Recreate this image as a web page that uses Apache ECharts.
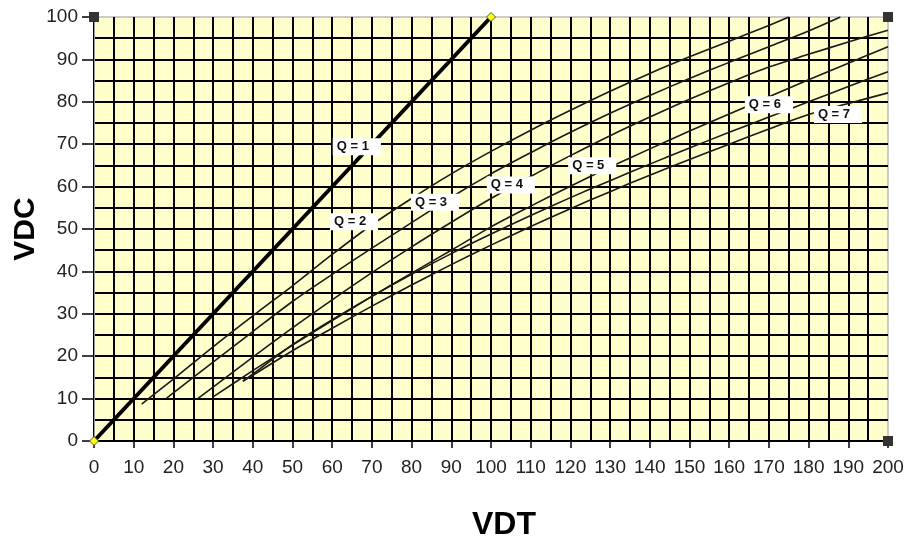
<!DOCTYPE html>
<html>
<head>
<meta charset="utf-8">
<script src="https://cdn.jsdelivr.net/npm/echarts@6/dist/echarts.min.js"></script>
<style>html,body{margin:0;padding:0;background:#fff}#c{width:916px;height:537px}</style>
</head>
<body>
<div id="c"></div>
<script>
// ---- data ----
var xTicks = [0,10,20,30,40,50,60,70,80,90,100,110,120,130,140,150,160,170,180,190,200];
var yTicks = [0,10,20,30,40,50,60,70,80,90,100];
var xTitle = 'VDT';
var yTitle = 'VDC';

var q1X = [0, 100];
var q1Y = [0, 100];

var q2X = [12, 20, 30, 40, 50, 60, 70, 80, 90, 100, 110, 120, 130, 140, 150, 160, 170, 175];
var q2Y = [8.7, 14.6, 22.2, 29.5, 36.6, 44, 51, 57.2, 63, 68.3, 73.3, 78, 82.5, 86.7, 90.6, 94.3, 98, 100];

var q3X = [18.3, 30, 40, 50, 60, 70, 80, 90, 100, 110, 120, 130, 140, 150, 160, 170, 180, 188];
var q3Y = [10.1, 18.6, 25.8, 32.9, 39.3, 45.5, 51.5, 57.5, 63, 68, 72.8, 77.3, 81.5, 85.5, 89.3, 93, 96.7, 100];

var q4X = [26.3, 30, 40, 50, 60, 70, 80, 90, 100, 110, 120, 130, 140, 150, 160, 170, 180, 190, 200];
var q4Y = [10.1, 12.7, 19.8, 26.7, 33.3, 39.7, 45.8, 51.6, 57.2, 62.4, 67.3, 72, 76.4, 80.6, 84.5, 88.2, 91.2, 94.1, 96.9];

var q5X = [30, 40, 50, 60, 70, 80, 90, 100, 110, 120, 130, 140, 150, 160, 170, 180, 190, 200];
var q5Y = [10.4, 16.6, 22.6, 28.4, 34.1, 39.6, 45, 50.5, 55.4, 60.1, 64.6, 68.9, 73.1, 77.1, 81.2, 85.2, 89.1, 93];

var q6X = [37.5, 40, 50, 60, 70, 80, 90, 100, 110, 120, 130, 140, 150, 160, 170, 180, 190, 200];
var q6Y = [14.1, 15.8, 22.7, 28.6, 34.1, 39.3, 44.2, 48.8, 53.2, 57.4, 61.4, 65.3, 69.1, 72.8, 76.4, 80, 83.6, 87.1];

var q7X = [37.5, 40, 50, 60, 70, 80, 90, 100, 110, 120, 130, 140, 150, 160, 170, 180, 190, 200];
var q7Y = [14.1, 15.5, 21.3, 26.6, 31.8, 36.8, 41.6, 46.2, 50.6, 54.8, 58.8, 62.7, 66.4, 70, 73.6, 77, 79.6, 82.1];

var labelText = ['Q = 1', 'Q = 2', 'Q = 3', 'Q = 4', 'Q = 5', 'Q = 6', 'Q = 7'];
var labelX = [66.2, 65.5, 85.9, 105, 125.5, 170, 187.4];
var labelY = [69.4, 51.7, 56.3, 60.4, 64.9, 79.3, 77];

var cornerX = [0, 200, 200];
var cornerY = [100, 100, 0];

// ---- build ----
function pairs(xs, ys) { return xs.map(function (x, i) { return [x, ys[i]]; }); }
var FONT = "'Liberation Sans', Arial, sans-serif";
var gridLine = { color: '#000', width: 2 };

function curve(name, xs, ys) {
  return {
    name: name, type: 'line', data: pairs(xs, ys), smooth: 0.3,
    showSymbol: false, symbol: 'none', silent: true,
    lineStyle: { color: '#1a1a1a', width: 1.6 }, z: 3
  };
}

var chart = echarts.init(document.getElementById('c'), null, { renderer: 'canvas' });
chart.setOption({
  animation: false,
  backgroundColor: '#ffffff',
  textStyle: { fontFamily: FONT },
  grid: { left: 94, right: 28, top: 17, bottom: 96, show: true, containLabel: false,
          outerBoundsMode: 'none',
          backgroundColor: '#FFFFCC', borderColor: '#999', borderWidth: 1 },
  graphic: [{
    type: 'text', x: 26, y: 229, rotation: Math.PI / 2, silent: true,
    style: { text: yTitle, font: "bold 30px 'Liberation Sans', Arial, sans-serif",
             fill: '#000', align: 'center', verticalAlign: 'middle' }
  }],
  xAxis: {
    type: 'value', min: xTicks[0], max: xTicks[xTicks.length - 1], interval: 10,
    name: xTitle, nameLocation: 'middle', nameGap: 68,
    nameTextStyle: { fontSize: 32, fontWeight: 'bold', color: '#000', fontFamily: FONT, padding: [0, 0, 0, 26] },
    axisLine: { show: true, lineStyle: { color: '#000', width: 1 } },
    axisTick: { show: true, length: 7, lineStyle: { color: '#000', width: 1.5 } },
    axisLabel: { fontSize: 19, color: '#222', margin: 17, fontFamily: FONT },
    splitLine: { show: true, lineStyle: gridLine, showMaxLine: false },
    minorTick: { show: false, splitNumber: 2 },
    minorSplitLine: { show: true, lineStyle: gridLine }
  },
  yAxis: {
    type: 'value', min: yTicks[0], max: yTicks[yTicks.length - 1], interval: 10,
    axisLine: { show: true, lineStyle: { color: '#999', width: 1 } },
    axisTick: { show: true, length: 12, lineStyle: { color: '#000', width: 1.5 } },
    axisLabel: { fontSize: 19, color: '#222', margin: 16, fontFamily: FONT },
    splitLine: { show: true, lineStyle: gridLine, showMaxLine: false },
    minorTick: { show: false, splitNumber: 2 },
    minorSplitLine: { show: true, lineStyle: gridLine }
  },
  series: [
    curve('Q = 2', q2X, q2Y),
    curve('Q = 3', q3X, q3Y),
    curve('Q = 4', q4X, q4Y),
    curve('Q = 5', q5X, q5Y),
    curve('Q = 6', q6X, q6Y),
    curve('Q = 7', q7X, q7Y),
    {
      name: 'Q = 1', type: 'line', data: pairs(q1X, q1Y), silent: true,
      symbol: 'diamond', symbolSize: 9, showSymbol: true,
      itemStyle: { color: '#FFFF00', borderColor: '#555', borderWidth: 1 },
      lineStyle: { color: '#000', width: 4 }, z: 4
    },
    {
      name: 'corners', type: 'scatter', data: pairs(cornerX, cornerY), silent: true,
      symbol: 'rect', symbolSize: 10, itemStyle: { color: '#333', opacity: 1 }, z: 5
    },
    {
      name: 'labels', type: 'scatter', silent: true, symbolSize: 0, z: 6,
      itemStyle: { opacity: 1 },
      emphasis: { disabled: true },
      data: labelX.map(function (x, i) { return { value: [x, labelY[i]], name: labelText[i] }; }),
      label: {
        show: true, position: 'inside', formatter: '{b}', opacity: 1,
        fontSize: 13, fontWeight: 'bold', color: '#111', fontFamily: FONT,
        backgroundColor: '#ffffff', padding: [2, 12, 2, 4]
      }
    }
  ]
});
</script>
</body>
</html>
